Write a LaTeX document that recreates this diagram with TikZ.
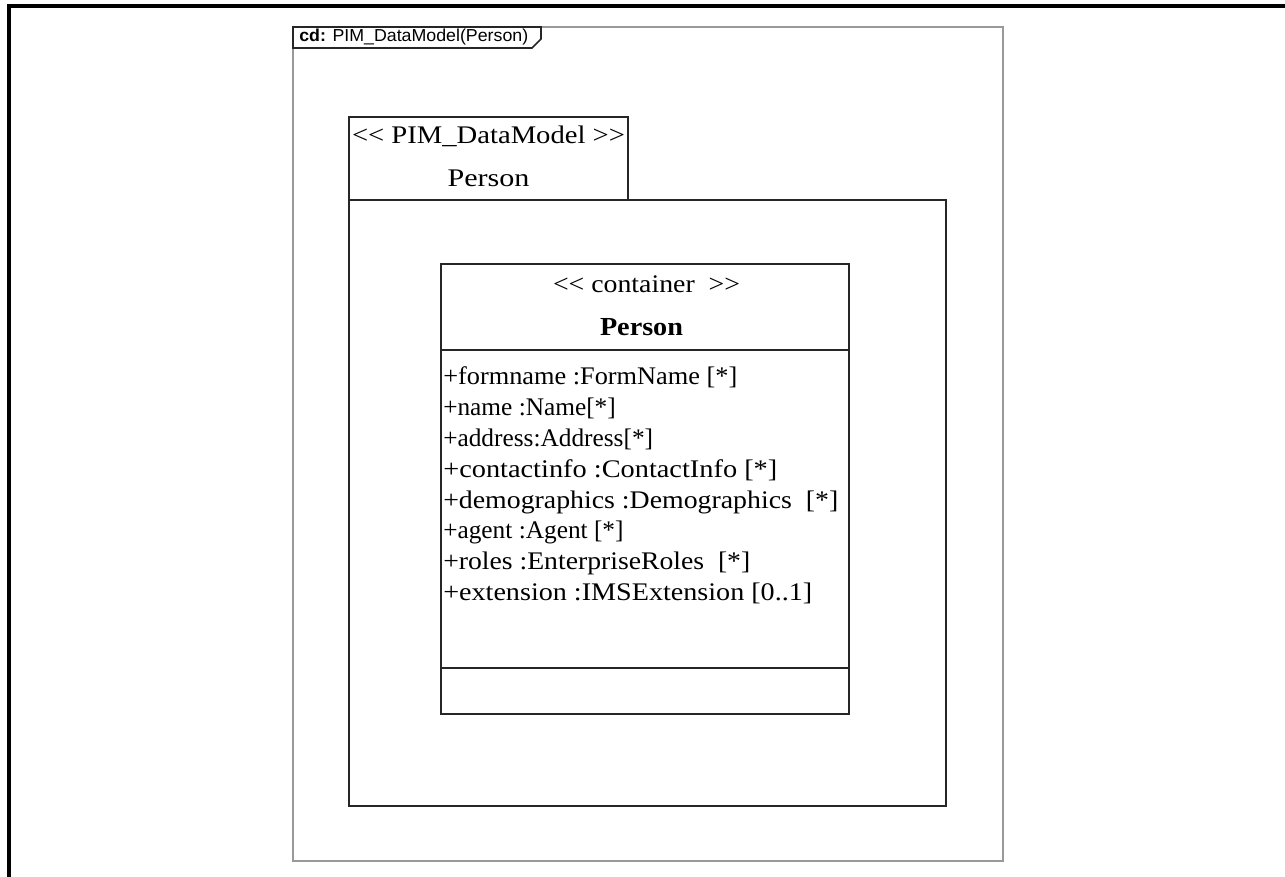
\documentclass[tikz,border=0pt]{standalone}
\usepackage{fontspec}
\setmainfont{Liberation Serif}
\newfontfamily\titlefont{Liberation Sans}
\newsavebox{\wfitbox}
% set #2 horizontally scaled to a width of #1 drawing units (1 unit = 0.75pt)
\newcommand\wfit[2]{%
  \sbox{\wfitbox}{#2}%
  \pgfmathsetmacro\wfitratio{(#1*0.75)/\wd\wfitbox}%
  \scalebox{\wfitratio}[1]{\usebox{\wfitbox}}}
\begin{document}
\begin{tikzpicture}[x=0.75pt,y=-0.75pt,
  umlline/.style={draw=black!85,line width=1.5pt},
  framegray/.style={draw=black!40,line width=1.4pt},
  serif/.style={font=\fontsize{19}{22}\selectfont,inner sep=0pt},
  attr/.style={serif,anchor=base west},
]
\useasboundingbox (0,0) rectangle (1285,877);
% page border (left and top edges)
\draw[line width=2.4pt] (9,877) -- (9,6) -- (1285,6);
% diagram frame
\draw[framegray] (293,27) rectangle (1003,861);
% frame title tab
\draw[umlline,line width=1.2pt] (293,27) -- (293,48) -- (532,48) -- (541,39) -- (541,27) -- cycle;
\node[anchor=base west,inner sep=0pt,font=\titlefont\fontsize{13}{15}\selectfont] (title) at (299,42) {\wfit{229}{\textbf{cd:} PIM\_DataModel(Person)}};
% package
\draw[umlline] (349,117) rectangle (628,200);
\draw[umlline] (349,200) rectangle (946,806);
\node[serif,anchor=base] (pkgst) at (488.5,144) {\wfit{273}{<{}< PIM\_DataModel >{}>}};
\node[serif,anchor=base] (pkgname) at (488.5,187) {\wfit{82}{Person}};
% class
\draw[umlline,fill=white] (441,264) rectangle (849,714);
\draw[umlline] (441,350) -- (849,350);
\draw[umlline] (441,668) -- (849,668);
\node[serif,anchor=base] (clsst) at (646.5,293) {\wfit{187}{<{}< container \ >{}>}};
\node[serif,anchor=base,font=\fontsize{19.5}{22}\selectfont\bfseries] (clsname) at (641.5,335) {\wfit{83}{Person}};
\node[attr] (a1) at (443,384) {\wfit{294}{+formname :FormName [*]}};
\node[attr] (a2) at (443,415) {+name :Name[*]};
\node[attr] (a3) at (443,446) {+address:Address[*]};
\node[attr] (a4) at (443,477) {\wfit{334}{+contactinfo :ContactInfo [*]}};
\node[attr] (a5) at (443,508) {\wfit{395}{+demographics :Demographics \ [*]}};
\node[attr] (a6) at (443,538) {+agent :Agent [*]};
\node[attr] (a7) at (443,569) {\wfit{307}{+roles :EnterpriseRoles \ [*]}};
\node[attr] (a8) at (443,600) {\wfit{369}{+extension :IMSExtension [0..1]}};
\end{tikzpicture}
\end{document}
